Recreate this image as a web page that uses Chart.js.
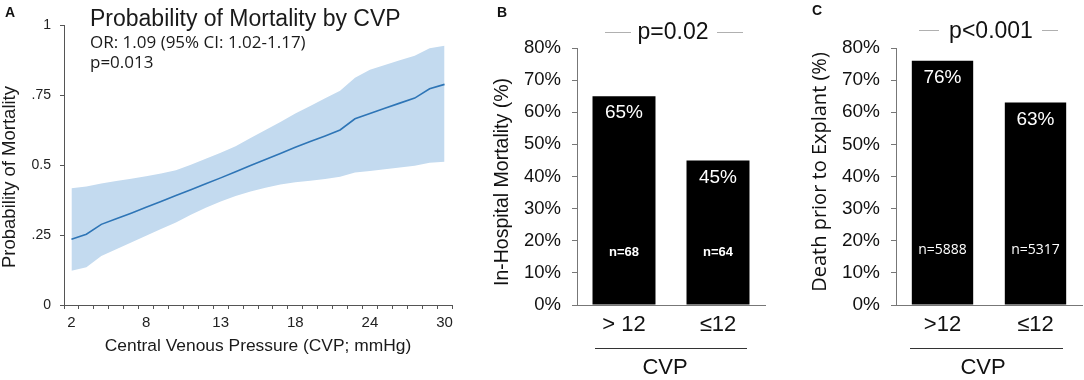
<!DOCTYPE html>
<html lang="en">
<head>
  <meta charset="UTF-8" />
  <title>CVP and mortality</title>
  <script src="https://cdn.jsdelivr.net/npm/chart.js@4.4.1/dist/chart.umd.min.js"></script>
  <style>
    * {
      margin: 0;
      padding: 0;
    }

    body {
      width: 1084px;
      height: 380px;
      background: #fff;
      position: relative;
      overflow: hidden;
    }

    .panel {
      position: absolute;
      top: 0;
      height: 380px;
    }

    #panelA { left: 0; width: 480px; }
    #panelB { left: 480px; width: 300px; }
    #panelC { left: 780px; width: 304px; }
  </style>
</head>

<body>
  <div class="panel" id="panelA"><canvas id="chartA"></canvas></div>
  <div class="panel" id="panelB"><canvas id="chartB"></canvas></div>
  <div class="panel" id="panelC"><canvas id="chartC"></canvas></div>

  <script>
    // panel A: predicted probability with 95% band
    const cvpCategories = ["2", "3", "4", "5", "6", "8", "9", "10", "11", "12", "13", "14", "15",
      "16", "17", "18", "19", "20", "21", "22", "24", "25", "26", "27", "28", "30"];
    const probMortality = [0.235, 0.253, 0.288, 0.308, 0.328, 0.349, 0.370, 0.391, 0.412, 0.433,
      0.454, 0.476, 0.498, 0.520, 0.541, 0.563, 0.584, 0.604, 0.625, 0.665,
      0.684, 0.703, 0.721, 0.739, 0.772, 0.788];
    const ciUpper = [0.417, 0.423, 0.434, 0.443, 0.451, 0.460, 0.470, 0.481, 0.501, 0.522,
      0.544, 0.567, 0.596, 0.625, 0.654, 0.684, 0.711, 0.738, 0.765, 0.812,
      0.840, 0.857, 0.874, 0.890, 0.917, 0.926];
    const ciLower = [0.122, 0.135, 0.175, 0.199, 0.223, 0.247, 0.271, 0.295, 0.322, 0.347,
      0.370, 0.389, 0.405, 0.419, 0.430, 0.438, 0.444, 0.450, 0.458, 0.473,
      0.479, 0.485, 0.491, 0.497, 0.508, 0.512];
    const probTickLabels = ["0", ".25", "0.5", ".75", "1"];

    // panel B: in-hospital mortality
    const hospCategories = ["> 12", "≤12"];
    const hospMortality = [65, 45];
    const hospN = ["n=68", "n=64"];

    // panel C: death prior to explant
    const explantCategories = [">12", "≤12"];
    const explantDeath = [76, 63];
    const explantN = ["n=5888", "n=5317"];

    const ARIAL = '"Liberation Sans", Arial, sans-serif';
    const CALIBRI = '"Open Sans", "Noto Sans", sans-serif';

    Chart.defaults.font.family = ARIAL;
    Chart.defaults.color = "#111";
    Chart.defaults.animation = false;
    Chart.defaults.plugins.legend.display = false;
    Chart.defaults.plugins.tooltip.enabled = false;

    function put(ctx, text, x, y, font, color, align, rot) {
      ctx.save();
      ctx.font = font;
      ctx.fillStyle = color;
      ctx.textAlign = align || "left";
      ctx.textBaseline = "middle";
      ctx.translate(x, y);
      if (rot) ctx.rotate(rot);
      ctx.fillText(text, 0, 0);
      ctx.restore();
    }

    function hline(ctx, x1, x2, y, color) {
      ctx.save();
      ctx.strokeStyle = color;
      ctx.lineWidth = 1;
      ctx.beginPath();
      ctx.moveTo(x1, y);
      ctx.lineTo(x2, y);
      ctx.stroke();
      ctx.restore();
    }

    function labelsPlugin(draw) {
      return {
        id: "extraText",
        afterDraw(chart) {
          draw(chart, chart.ctx);
        }
      };
    }

    // ---------- A ----------
    new Chart(document.getElementById("chartA"), {
      type: "line",
      data: {
        labels: cvpCategories,
        datasets: [
          {
            data: probMortality,
            borderColor: "#2e75b6",
            borderWidth: 1.6,
            pointRadius: 0,
            fill: false,
            tension: 0
          },
          {
            data: ciUpper,
            borderColor: "transparent",
            borderWidth: 0,
            pointRadius: 0,
            backgroundColor: "#c3daef",
            fill: "+1"
          },
          {
            data: ciLower,
            borderColor: "transparent",
            borderWidth: 0,
            pointRadius: 0,
            fill: false
          }
        ]
      },
      options: {
        responsive: true,
        maintainAspectRatio: false,
        layout: { padding: { top: 25, right: 28, bottom: 0, left: 0 } },
        scales: {
          x: {
            type: "category",
            offset: true,
            afterFit: s => { s.height = 75; },
            grid: { display: true, drawOnChartArea: false, offset: true, tickLength: 4, color: "#555" },
            border: { color: "#555" },
            ticks: {
              autoSkip: false,
              maxRotation: 0,
              padding: 5,
              color: "#222",
              font: { size: 15 },
              callback: (v, i) => (i % 5 === 0 ? cvpCategories[i] : "")
            }
          },
          y: {
            min: 0,
            max: 1,
            afterFit: s => { s.width = 64; },
            grid: { display: true, drawOnChartArea: false, tickLength: 4, color: "#555" },
            border: { color: "#555" },
            ticks: {
              stepSize: 0.25,
              padding: 9,
              color: "#222",
              font: { size: 14 },
              callback: (v, i) => probTickLabels[i]
            }
          }
        }
      },
      plugins: [labelsPlugin((chart, ctx) => {
        put(ctx, "A", 5, 13, "bold 14px " + ARIAL, "#111");
        put(ctx, "Probability of Mortality by CVP", 90, 20, "23px " + ARIAL, "#1a1a1a");
        put(ctx, "OR: 1.09 (95% CI: 1.02-1.17)", 90, 43, "17px " + CALIBRI, "#1a1a1a");
        put(ctx, "p=0.013", 90, 63, "17px " + CALIBRI, "#1a1a1a");
        put(ctx, "Probability of Mortality", 10, 177, "18.5px " + ARIAL, "#1a1a1a", "center", -Math.PI / 2);
        put(ctx, "Central Venous Pressure (CVP; mmHg)", 258, 346, "17.4px " + ARIAL, "#1a1a1a", "center");
      })]
    });

    // ---------- bar panels ----------
    function barPanel(canvasId, categories, values, nLabels, opt) {
      return new Chart(document.getElementById(canvasId), {
        type: "bar",
        data: {
          labels: categories,
          datasets: [{
            data: values,
            backgroundColor: "#000",
            barPercentage: opt.barPct,
            categoryPercentage: 1
          }]
        },
        options: {
          responsive: true,
          maintainAspectRatio: false,
          layout: { padding: { top: 48, right: opt.padRight, bottom: 0, left: 0 } },
          scales: {
            x: {
              afterFit: s => { s.height = 75; },
              grid: { display: true, drawOnChartArea: false, drawTicks: false, color: "#777" },
              border: { color: "#777" },
              ticks: { padding: 7, font: { size: 22 }, color: "#111" }
            },
            y: {
              min: 0,
              max: 80,
              afterFit: s => { s.width = opt.axisLeft; },
              grid: { display: true, drawOnChartArea: false, tickLength: 5, color: "#777" },
              border: { color: "#777" },
              ticks: {
                stepSize: 10,
                padding: 11,
                font: { size: opt.tickSize },
                color: "#111",
                callback: v => v + "%"
              }
            }
          }
        },
        plugins: [labelsPlugin((chart, ctx) => {
          const meta = chart.getDatasetMeta(0);
          const yScale = chart.scales.y;
          meta.data.forEach((bar, i) => {
            put(ctx, values[i] + "%", bar.x, bar.y + 17, "19px " + ARIAL, "#fff", "center");
            put(ctx, nLabels[i], bar.x, yScale.getPixelForValue(opt.nAt), opt.nFont, "#fff", "center");
          });
          opt.draw(ctx);
        })]
      });
    }

    barPanel("chartB", hospCategories, hospMortality, hospN, {
      barPct: 0.67, padRight: 15, axisLeft: 97, tickSize: 18.5, nAt: 16.5,
      nFont: "bold 13px " + ARIAL,
      draw: ctx => {
        put(ctx, "B", 17, 13, "bold 14px " + ARIAL, "#111");
        put(ctx, "p=0.02", 193, 33, "23px " + ARIAL, "#111", "center");
        hline(ctx, 125, 151, 32.5, "#b0b0b0");
        hline(ctx, 237, 263, 32.5, "#b0b0b0");
        put(ctx, "In-Hospital Mortality (%)", 23, 182, "19.5px " + ARIAL, "#111", "center", -Math.PI / 2);
        hline(ctx, 115, 267, 348.5, "#333");
        put(ctx, "CVP", 185, 368, "22px " + ARIAL, "#111", "center");
      }
    });

    barPanel("chartC", explantCategories, explantDeath, explantN, {
      barPct: 0.66, padRight: 2, axisLeft: 116, tickSize: 19, nAt: 17,
      nFont: "14px " + CALIBRI,
      draw: ctx => {
        put(ctx, "C", 32, 11, "bold 14px " + ARIAL, "#111");
        put(ctx, "p<0.001", 211, 32, "23px " + ARIAL, "#111", "center");
        hline(ctx, 139, 159, 30.5, "#b0b0b0");
        hline(ctx, 262, 278, 30.5, "#b0b0b0");
        put(ctx, "Death prior to Explant (%)", 40, 172, "20px " + CALIBRI, "#111", "center", -Math.PI / 2);
        hline(ctx, 130, 283, 348.5, "#333");
        put(ctx, "CVP", 203, 368, "22px " + ARIAL, "#111", "center");
      }
    });
  </script>
</body>

</html>
